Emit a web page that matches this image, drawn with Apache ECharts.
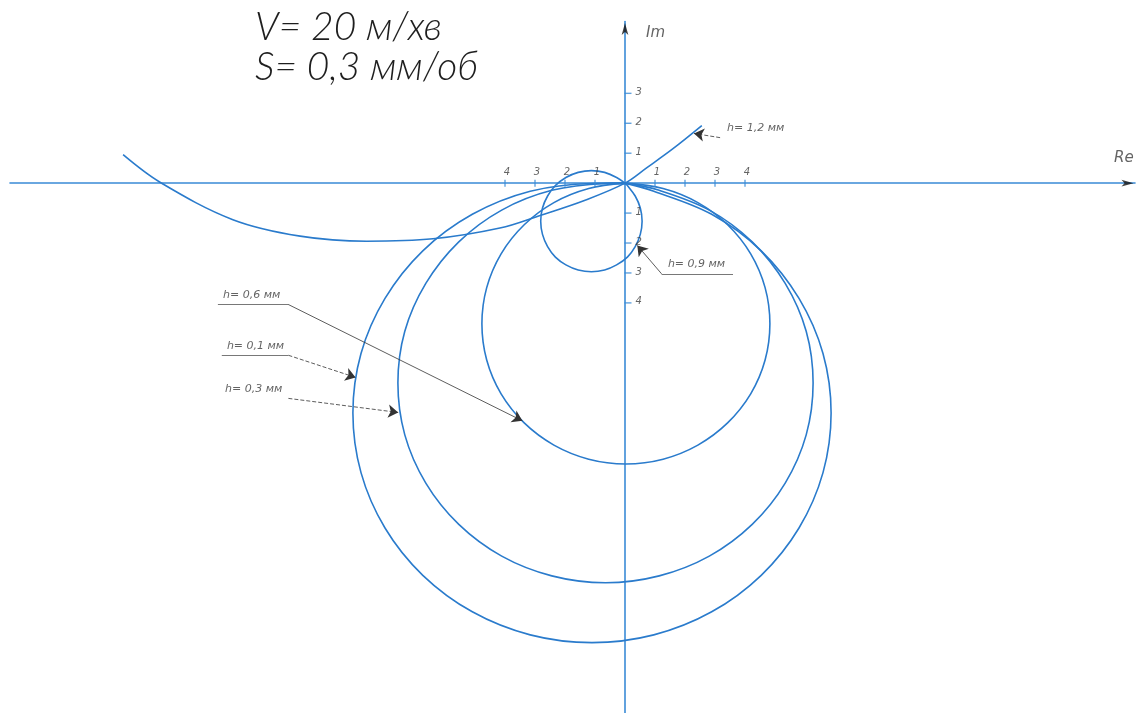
<!DOCTYPE html>
<html>
<head>
<meta charset="utf-8">
<title>Годограф</title>
<script src="https://cdn.jsdelivr.net/npm/echarts@6/dist/echarts.min.js"></script>
<style>
  html, body { margin: 0; padding: 0; background: #ffffff; }
  #chart { width: 1138px; height: 713px; }
</style>
</head>
<body>
<div id="chart"></div>
<script>
// Tick positions on both axes and the labels printed next to them
const xTickValues = [-4, -3, -2, -1, 1, 2, 3, 4];
const xTickLabels = ['4', '3', '2', '1', '1', '2', '3', '4'];
const yTickValues = [-4, -3, -2, -1, 1, 2, 3];
const yTickLabels = ['4', '3', '2', '1', '1', '2', '3'];

// Frequency-response loops [Re, Im] for each cut depth h
const curveH01 = [
  [0, 0], [0.96, -0.27], [2.89, -1.04], [4.54, -2.26], [5.80, -3.85], [6.60, -5.69],
  [6.87, -7.68], [6.60, -9.67], [5.80, -11.52], [4.54, -13.10], [2.89, -14.32],
  [0.96, -15.09], [-1.1, -15.35], [-3.16, -15.09], [-5.09, -14.32], [-6.74, -13.10],
  [-8.0, -11.52], [-8.80, -9.67], [-9.07, -7.68], [-8.80, -5.69], [-8.0, -3.85],
  [-6.74, -2.26], [-5.09, -1.04], [-3.16, -0.27], [-1.1, -0.01], [0, 0]
];
const curveH03 = [
  [0, 0], [1.14, -0.24], [2.81, -0.90], [4.24, -1.96], [5.34, -3.35], [6.04, -4.95],
  [6.27, -6.68], [6.04, -8.41], [5.34, -10.02], [4.24, -11.40], [2.81, -12.46],
  [1.14, -13.12], [-0.65, -13.35], [-2.44, -13.12], [-4.11, -12.46], [-5.54, -11.40],
  [-6.64, -10.02], [-7.34, -8.41], [-7.57, -6.68], [-7.34, -4.95], [-6.64, -3.35],
  [-5.54, -1.96], [-4.11, -0.90], [-2.44, -0.24], [-0.65, -0.01], [0, 0]
];
const curveH06 = [
  [0, 0], [1.27, -0.18], [2.43, -0.65], [3.42, -1.39], [4.19, -2.36], [4.67, -3.49],
  [4.83, -4.7], [4.67, -5.91], [4.19, -7.04], [3.42, -8.01], [2.43, -8.75],
  [1.27, -9.22], [0.03, -9.38], [-1.21, -9.22], [-2.37, -8.75], [-3.36, -8.01],
  [-4.13, -7.04], [-4.61, -5.91], [-4.77, -4.7], [-4.61, -3.49], [-4.13, -2.36],
  [-3.36, -1.39], [-2.37, -0.65], [-1.21, -0.18], [0, 0]
];
const curveH09 = [
  [0, 0], [-0.28, 0.19], [-0.68, 0.36], [-1.12, 0.42], [-1.56, 0.36], [-1.97, 0.19],
  [-2.32, -0.08], [-2.58, -0.43], [-2.75, -0.83], [-2.81, -1.27], [-2.75, -1.71],
  [-2.58, -2.12], [-2.32, -2.47], [-1.97, -2.73], [-1.56, -2.90], [-1.12, -2.96],
  [-0.68, -2.90], [-0.28, -2.73], [0.08, -2.47], [0.34, -2.12], [0.51, -1.71],
  [0.57, -1.27], [0.51, -0.83], [0.34, -0.43], [0.08, -0.08], [0, 0]
];
const curveH12 = [
  [-16.73, 0.95], [-15.5, 0.03], [-13.07, -1.22], [-10.83, -1.77], [-8.61, -1.94],
  [-6.4, -1.86], [-4.17, -1.5], [-2.83, -1.08], [-1.33, -0.57], [0, 0],
  [0.72, 0.51], [1.6, 1.15], [2.56, 1.92]
];

// Callout texts
const calloutTexts = ['h= 0,1 мм', 'h= 0,3 мм', 'h= 0,6 мм', 'h= 0,9 мм', 'h= 1,2 мм'];

// Where each callout sits: text anchor, leader line (from -> arrow tip), optional underline
const calloutLayout = [
  { text: [-13.27, -5.44], leader: [[-11.22, -5.75], [-8.98, -6.49]], under: [[-13.44, -5.75], [-11.22, -5.75]], dashed: true },
  { text: [-13.33, -6.88], leader: [[-11.22, -7.19], [-7.56, -7.66]], under: null, dashed: true },
  { text: [-13.4, -3.74], leader: [[-11.23, -4.05], [-3.42, -7.94]], under: [[-13.57, -4.05], [-11.23, -4.05]], dashed: false },
  { text: [1.43, -2.72], leader: [[1.22, -3.03], [0.41, -2.08]], under: [[1.22, -3.03], [3.6, -3.03]], dashed: false },
  { text: [3.4, 1.85], leader: [[3.17, 1.52], [2.3, 1.66]], under: null, dashed: true }
];

const BLUE = '#2a7bcc';
const AXIS_BLUE = '#3a8bd6';
const TEXT_GRAY = '#3c3c3c';
const FONT = "'DejaVu Sans', 'Noto Sans', sans-serif";
const TITLE_FONT = "Lato, 'Open Sans', 'DejaVu Sans', sans-serif";

function curveSeries(name, data) {
  return {
    name: name, type: 'line', data: data, smooth: 0.35, symbol: 'none',
    lineStyle: { color: BLUE, width: 1.6 }, z: 3, silent: true
  };
}

const chart = echarts.init(document.getElementById('chart'), null, { renderer: 'canvas' });

const option = {
  backgroundColor: '#ffffff',
  animation: false,
  title: {
    text: 'V= 20 м/хв\nS= 0,3 мм/об',
    left: 250, top: 2,
    textStyle: {
      fontFamily: TITLE_FONT, fontStyle: 'italic', fontWeight: 300,
      fontSize: 39, lineHeight: 40, color: '#1e1e1e'
    }
  },
  grid: { left: 10, top: 21.5, width: 1125, height: 693 },
  xAxis: {
    type: 'value', min: -20.5, max: 17,
    axisLine: { onZero: true, lineStyle: { color: AXIS_BLUE, width: 1.6 } },
    axisTick: { show: false }, axisLabel: { show: false }, splitLine: { show: false }
  },
  yAxis: {
    type: 'value', min: -17.7, max: 5.4,
    axisLine: { onZero: true, lineStyle: { color: AXIS_BLUE, width: 1.6 } },
    axisTick: { show: false }, axisLabel: { show: false }, splitLine: { show: false }
  },
  series: [
    curveSeries('h= 0,1 мм', curveH01),
    curveSeries('h= 0,3 мм', curveH03),
    curveSeries('h= 0,6 мм', curveH06),
    curveSeries('h= 0,9 мм', curveH09),
    curveSeries('h= 1,2 мм', curveH12),
    // ticks on the Re axis
    {
      type: 'scatter', silent: true, z: 4,
      data: xTickValues.map((v, i) => ({ value: [v, 0], name: xTickLabels[i] })),
      symbol: 'rect', symbolSize: [1.4, 7], itemStyle: { color: AXIS_BLUE },
      label: {
        show: true, position: 'top', distance: 2, offset: [2, 0], formatter: '{b}',
        fontFamily: FONT, fontStyle: 'italic', fontSize: 10, color: TEXT_GRAY
      }
    },
    // ticks on the Im axis
    {
      type: 'scatter', silent: true, z: 4,
      data: yTickValues.map((v, i) => ({ value: [0, v], name: yTickLabels[i] })),
      symbol: 'rect', symbolSize: [7, 1.4], symbolOffset: [3, 0], itemStyle: { color: AXIS_BLUE },
      label: {
        show: true, position: 'right', distance: 4, offset: [0, -1], formatter: '{b}',
        fontFamily: FONT, fontStyle: 'italic', fontSize: 10, color: TEXT_GRAY
      }
    },
    // arrowheads of the axes
    {
      type: 'scatter', silent: true, z: 5,
      data: [
        { value: [16.95, 0], symbolRotate: -90 },
        { value: [0, 5.35], symbolRotate: 0 }
      ],
      symbol: 'arrow', symbolSize: [5, 12], itemStyle: { color: '#111111' }
    },
    // axis names
    {
      type: 'scatter', silent: true, z: 5, symbolSize: 0,
      data: [
        { value: [16.3, 0.85], name: 'Re' },
        { value: [0.7, 5.02], name: 'Im' }
      ],
      label: {
        show: true, position: 'right', distance: 0, formatter: '{b}',
        fontFamily: FONT, fontStyle: 'italic', fontSize: 15, color: TEXT_GRAY
      }
    },
    // callout texts
    {
      type: 'scatter', silent: true, z: 5, symbolSize: 0,
      data: calloutLayout.map((c, i) => ({ value: c.text, name: calloutTexts[i] })),
      label: {
        show: true, position: 'right', distance: 0, formatter: '{b}',
        fontFamily: FONT, fontStyle: 'italic', fontSize: 11, color: TEXT_GRAY
      }
    },
    // leader lines, solid
    {
      type: 'lines', coordinateSystem: 'cartesian2d', silent: true, z: 4,
      symbol: ['none', 'arrow'], symbolSize: [5, 10],
      lineStyle: { color: '#333333', width: 0.8, opacity: 1 },
      data: calloutLayout.filter(c => !c.dashed).map(c => ({ coords: c.leader }))
    },
    // leader lines, dashed
    {
      type: 'lines', coordinateSystem: 'cartesian2d', silent: true, z: 4,
      symbol: ['none', 'arrow'], symbolSize: [5, 10],
      lineStyle: { color: '#333333', width: 0.8, type: [4, 2], opacity: 1 },
      data: calloutLayout.filter(c => c.dashed).map(c => ({ coords: c.leader }))
    },
    // underlines below callout texts
    {
      type: 'lines', coordinateSystem: 'cartesian2d', silent: true, z: 4,
      symbol: 'none',
      lineStyle: { color: '#555555', width: 0.8, opacity: 1 },
      data: calloutLayout.filter(c => c.under).map(c => ({ coords: c.under }))
    }
  ]
};

chart.setOption(option);
</script>
</body>
</html>
